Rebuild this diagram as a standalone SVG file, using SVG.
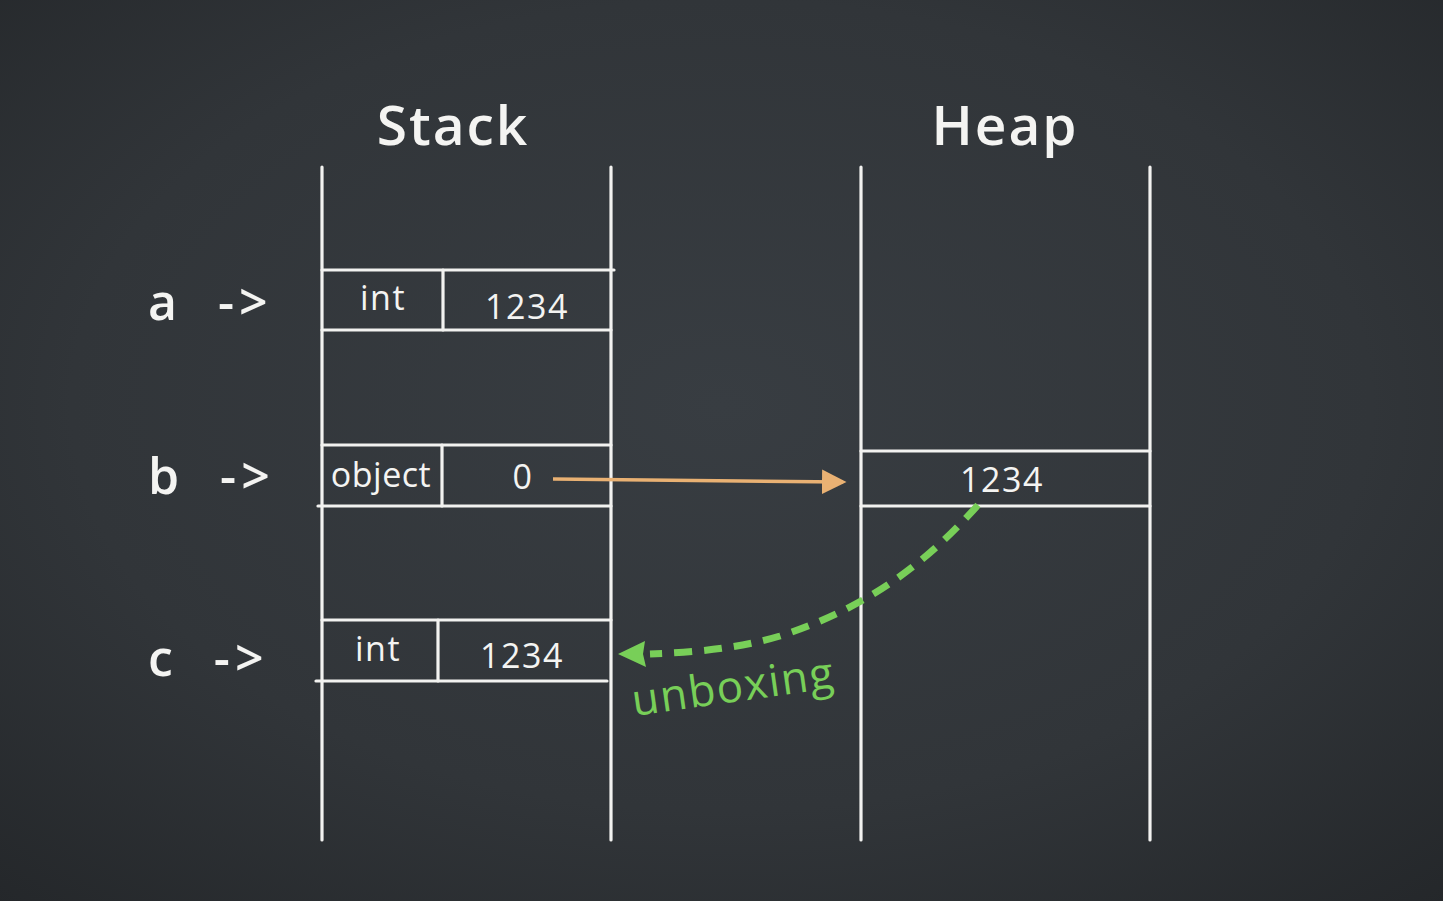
<svg xmlns="http://www.w3.org/2000/svg" width="1443" height="901" viewBox="0 0 1443 901">
<defs>
<radialGradient id="bg" cx="50%" cy="45%" r="75%">
<stop offset="0" stop-color="#383d42"/>
<stop offset="0.6" stop-color="#313539"/>
<stop offset="1" stop-color="#24272a"/>
</radialGradient>
<marker id="orangeHead" markerWidth="8" markerHeight="8" refX="6" refY="4" orient="auto" markerUnits="strokeWidth">
<path d="M0,0.5 L7,4 L0,7.5 Z" fill="#e9b173"/>
</marker>
</defs>
<style>
.chalk{stroke:#f2f2f0;stroke-width:3.2;fill:none;stroke-linecap:round}
.t{font-family:"Open Sans","Liberation Sans",sans-serif;fill:#f4f4f2;text-anchor:middle}
.title{font-size:55px;font-weight:600;letter-spacing:2px}
.cell{font-size:34px;letter-spacing:1.5px}
.var{font-size:50px;text-anchor:start;word-spacing:18px;letter-spacing:5px;font-weight:600}
</style>
<rect width="1443" height="901" fill="url(#bg)"/>

<g id="stack">
<text class="t title" x="453" y="145">Stack</text>
<line class="chalk" x1="322" y1="167" x2="322" y2="840"/>
<line class="chalk" x1="611" y1="167" x2="611" y2="840"/>
</g>
<g id="heap">
<text class="t title" x="1005" y="145">Heap</text>
<line class="chalk" x1="861" y1="167" x2="861" y2="840"/>
<line class="chalk" x1="1150" y1="167" x2="1150" y2="840"/>
</g>

<g id="rowA">
<line class="chalk" x1="322" y1="270" x2="614" y2="270"/>
<line class="chalk" x1="322" y1="330" x2="611" y2="330"/>
<line class="chalk" x1="443" y1="270" x2="443" y2="330"/>
<text class="t cell" x="383" y="310">int</text>
<text class="t cell" x="527" y="319">1234</text>
<text class="t var" x="148" y="320">a -&gt;</text>
</g>
<g id="rowB">
<line class="chalk" x1="322" y1="445" x2="611" y2="445"/>
<line class="chalk" x1="318" y1="506" x2="611" y2="506"/>
<line class="chalk" x1="442" y1="445" x2="442" y2="506"/>
<text class="t cell" x="381" y="487" style="letter-spacing:0.5px">object</text>
<text class="t cell" x="523" y="489">0</text>
<text class="t var" x="148" y="494">b -&gt;</text>
</g>
<g id="rowC">
<line class="chalk" x1="322" y1="620" x2="611" y2="620"/>
<line class="chalk" x1="316" y1="681" x2="607" y2="681"/>
<line class="chalk" x1="438" y1="620" x2="438" y2="681"/>
<text class="t cell" x="378" y="661">int</text>
<text class="t cell" x="522" y="668">1234</text>
<text class="t var" x="148" y="676">c -&gt;</text>
</g>
<g id="heapCell">
<line class="chalk" x1="861" y1="451" x2="1150" y2="451"/>
<line class="chalk" x1="861" y1="506" x2="1150" y2="506"/>
<text class="t cell" x="1002" y="492">1234</text>
</g>

<g id="connectors">
<line x1="553" y1="479" x2="843" y2="482" stroke="#e9b173" stroke-width="3.5" marker-end="url(#orangeHead)"/>
<path d="M978,505 C920,570 860,610 780,636 C740,648 700,652 650,654" fill="none" stroke="#78cf58" stroke-width="7" stroke-dasharray="18,12"/>
<path d="M618,654 L645,641 L643,654 L646,667 Z" fill="#78cf58"/>
</g>
<g id="label">
<text x="634" y="716" transform="rotate(-8 634 716)" font-family="Open Sans, Liberation Sans, sans-serif" font-size="44" letter-spacing="1.5" fill="#78cf58">unboxing</text>
</g>
</svg>
